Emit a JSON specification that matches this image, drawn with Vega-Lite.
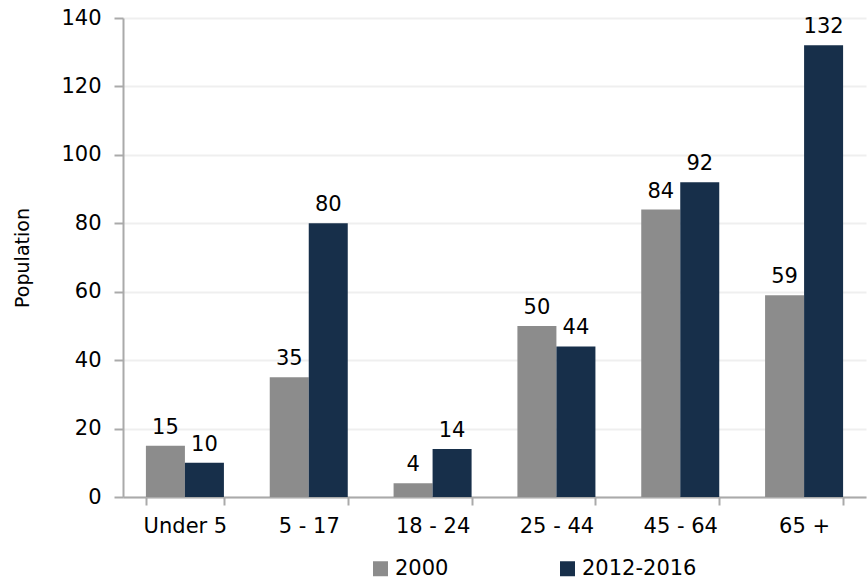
{
  "$schema": "https://vega.github.io/schema/vega-lite/v6.json",
  "width": 743,
  "height": 479,
  "autosize": {"type": "none"},
  "padding": {"left": 123, "top": 18, "right": 2, "bottom": 88},
  "background": "white",
  "config": {
    "view": {"stroke": null},
    "font": "DejaVu Sans"
  },
  "data": {
    "values": [
      {"age": "Under 5", "period": "2000", "pop": 15},
      {"age": "Under 5", "period": "2012-2016", "pop": 10},
      {"age": "5 - 17", "period": "2000", "pop": 35},
      {"age": "5 - 17", "period": "2012-2016", "pop": 80},
      {"age": "18 - 24", "period": "2000", "pop": 4},
      {"age": "18 - 24", "period": "2012-2016", "pop": 14},
      {"age": "25 - 44", "period": "2000", "pop": 50},
      {"age": "25 - 44", "period": "2012-2016", "pop": 44},
      {"age": "45 - 64", "period": "2000", "pop": 84},
      {"age": "45 - 64", "period": "2012-2016", "pop": 92},
      {"age": "65 +", "period": "2000", "pop": 59},
      {"age": "65 +", "period": "2012-2016", "pop": 132}
    ]
  },
  "encoding": {
    "x": {
      "field": "age", "type": "nominal", "sort": null,
      "scale": {"paddingInner": 0.37, "paddingOuter": 0.185},
      "axis": {
        "title": null, "labelAngle": 0, "labelFontSize": 21, "labelColor": "#000",
        "domainColor": "#aaaaaa", "domainWidth": 2, "tickColor": "#aaaaaa", "tickWidth": 2,
        "tickSize": 8, "tickBand": "extent", "labelPadding": 10, "grid": false
      }
    },
    "xOffset": {"field": "period", "type": "nominal"},
    "y": {
      "field": "pop", "type": "quantitative",
      "scale": {"domain": [0, 140]},
      "axis": {
        "title": "Population", "titleFontSize": 19, "titleFontWeight": "normal", "titleColor": "#000",
        "titlePadding": 28,
        "values": [0, 20, 40, 60, 80, 100, 120, 140],
        "labelFontSize": 21, "labelColor": "#000", "labelPadding": 13,
        "domainColor": "#aaaaaa", "domainWidth": 2, "tickColor": "#aaaaaa", "tickWidth": 2, "tickSize": 9,
        "gridColor": "#efefef", "gridWidth": 2
      }
    }
  },
  "layer": [
    {
      "mark": {"type": "bar"},
      "encoding": {
        "color": {
          "field": "period", "type": "nominal",
          "scale": {"domain": ["2000", "2012-2016"], "range": ["#8c8c8c", "#172f4a"]},
          "legend": {
            "title": null, "orient": "none", "direction": "horizontal", "columns": 2,
            "legendX": 247, "legendY": 540,
            "symbolType": "square", "symbolSize": 225, "symbolStrokeWidth": 0,
            "labelFontSize": 21, "labelColor": "#000", "labelOffset": 4,
            "columnPadding": 108
          }
        }
      }
    },
    {
      "mark": {"type": "text", "baseline": "alphabetic", "dy": -12, "fontSize": 21, "color": "#000"},
      "encoding": {"text": {"field": "pop", "type": "quantitative"}}
    }
  ]
}
